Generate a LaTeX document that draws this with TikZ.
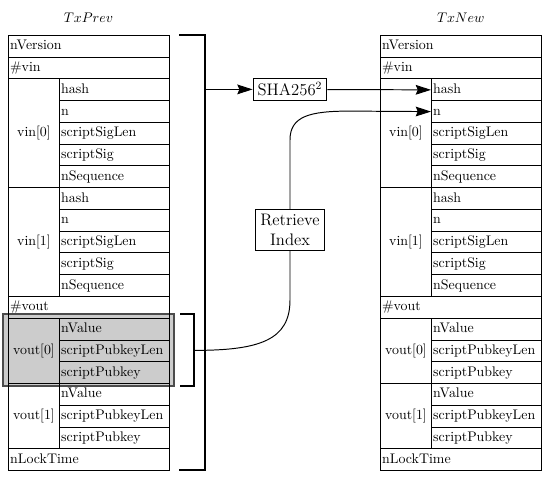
\documentclass[tikz,border=0pt]{standalone}
\usetikzlibrary{arrows.meta}
\def\rowh{15.647pt}
\tikzset{
  tbl/.style={draw, line width=0.7pt, anchor=north west, inner ysep=0pt, minimum height=\rowh, text height=7pt, text depth=2pt},
  fullcell/.style={tbl, inner xsep=1.2pt, text width=113.4pt, align=left},
  subcell/.style={tbl, inner xsep=1.2pt, text width=76.7pt, align=left},
  labcell/.style={tbl, inner xsep=0pt, minimum width=36.7pt, align=center},
  box/.style={draw, line width=0.7pt, font=\large, inner sep=3.3pt, align=center},
  arr/.style={line width=0.7pt, -{Stealth[length=11pt,width=7pt,inset=1.5pt]}},
  brk/.style={line width=0.9pt},
  hilite/.style={fill=black!20, draw=black!70, line width=0.8pt}
}
\begin{document}
\begin{tikzpicture}[x=0.7194pt, y=-0.7194pt]
\useasboundingbox (0,0) rectangle (552,484);
% highlight of vout[0] in TxPrev
\path[hilite] (3,314) rectangle (174,386);
% titles
\node (tprev) at (88.5,18) {$TxPrev$};
\node (tnew) at (460.75,18) {$TxNew$};
% tables
\foreach \X/\t in {8/p,380/n}{
  \node[fullcell] (\t-ver) at (\X,35) {nVersion};
  \node[fullcell] (\t-nvin) at (\X,56.75) {\#vin};
  \foreach \k/\Y in {0/78.5,1/187.25}{
    \node[labcell, minimum height=5*\rowh] (\t-vin\k) at (\X,\Y) {vin[\k]};
    \foreach \f [count=\j from 0] in {hash,n,scriptSigLen,scriptSig,nSequence}
      \node[subcell] (\t-vin\k-\j) at (\X+51,\Y+\j*21.75) {\f};
  }
  \node[fullcell] (\t-nvout) at (\X,296) {\#vout};
  \foreach \k/\Y in {0/317.75,1/383}{
    \node[labcell, minimum height=3*\rowh] (\t-vout\k) at (\X,\Y) {vout[\k]};
    \foreach \f [count=\j from 0] in {nValue,scriptPubkeyLen,scriptPubkey}
      \node[subcell] (\t-vout\k-\j) at (\X+51,\Y+\j*21.75) {\f};
  }
  \node[fullcell] (\t-lock) at (\X,448.25) {nLockTime};
}
% brackets
\draw[brk] (179,35) -- (205,35) -- (205,470) -- (179,470);
\coordinate (bt) at (205,89.4);
\draw[brk] (180,314) -- (194,314) -- (194,386) -- (180,386);
\coordinate (st) at (194,350.4);
% process boxes
\node[box] (sha) at (290,89.4) {SHA256$^2$};
\node[box] (ri) at (290,230) {Retrieve\\Index};
% connectors
\draw[arr] (bt) -- (sha);
\draw[arr] (sha) -- (n-vin0-0.west);
\draw[line width=0.7pt] (st) .. controls (260,350.4) and (290,340) .. (290,300) -- (ri.south);
\draw[arr] (ri.north) -- (290,140) .. controls (290,116) and (310,111.1) .. (350,111.1) -- (n-vin0-1.west);
\end{tikzpicture}
\end{document}
